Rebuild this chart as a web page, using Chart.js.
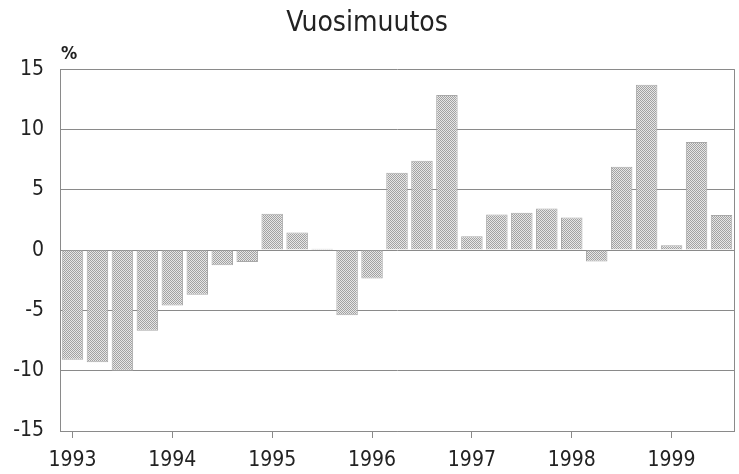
<!DOCTYPE html>
<html>
<head>
<meta charset="utf-8">
<script src="https://cdn.jsdelivr.net/npm/chart.js@4"></script>
<style>
  body { margin: 0; background: #fff; }
</style>
</head>
<body>
<canvas id="chart" width="739" height="474"></canvas>
<script>
// quarters 1993 Q1 .. 1999 Q3
const years = ['1993', '1994', '1995', '1996', '1997', '1998', '1999'];
const quarters = ['Q1', 'Q2', 'Q3', 'Q4'];
const changes = [
  -9.1, -9.3, -10.0, -6.7,
  -4.6, -3.7, -1.25, -1.0,
  3.0, 1.45, 0.1, -5.4,
  -2.35, 6.4, 7.4, 12.85,
  1.15, 2.95, 3.1, 3.45,
  2.7, -0.95, 6.9, 13.7,
  0.4, 8.95, 2.9
];
const yTicks = [-15, -10, -5, 0, 5, 10, 15];

const labels = [];
years.forEach(y => quarters.forEach(q => labels.push(y + ' ' + q)));
labels.length = changes.length;

const font = "'Liberation Sans Narrow', 'DejaVu Sans Condensed', sans-serif";

// stippled grey fill like the printed original
const pc = document.createElement('canvas');
pc.width = 2; pc.height = 2;
const p = pc.getContext('2d');
p.fillStyle = '#e6e6e6'; p.fillRect(0, 0, 2, 2);
p.fillStyle = '#a2a2a2'; p.fillRect(0, 0, 1, 1); p.fillRect(1, 1, 1, 1);

const ctx = document.getElementById('chart').getContext('2d');
const pattern = ctx.createPattern(pc, 'repeat');

const frame = {
  id: 'frame',
  afterDraw(chart) {
    const a = chart.chartArea;
    const c = chart.ctx;
    c.save();
    c.strokeStyle = '#8a8a8a';
    c.lineWidth = 1;
    c.beginPath();
    c.moveTo(a.right + 0.5, a.top);
    c.lineTo(a.right + 0.5, a.bottom);
    c.stroke();
    c.fillStyle = '#222';
    c.font = 'bold 18px ' + font;
    c.textBaseline = 'alphabetic';
    c.fillText('%', a.left + 1, a.top - 10);
    c.restore();
  }
};

new Chart(ctx, {
  type: 'bar',
  data: {
    labels: labels,
    datasets: [{
      data: changes,
      backgroundColor: pattern,
      borderColor: '#a8a8a8',
      borderWidth: 1,
      barPercentage: 0.86,
      categoryPercentage: 1
    }]
  },
  options: {
    responsive: false,
    animation: false,
    layout: { padding: { left: 0, right: 5, top: 0, bottom: 0 } },
    plugins: {
      legend: { display: false },
      tooltip: { enabled: false },
      title: {
        display: true,
        text: 'Vuosimuutos',
        color: '#222',
        font: { family: font, size: 28, weight: 'normal' },
        padding: { top: 6.5, bottom: 29 }
      }
    },
    scales: {
      x: {
        offset: true,
        afterFit: axis => { axis.height = 43; },
        grid: {
          offset: false,
          drawOnChartArea: false,
          drawTicks: true,
          tickLength: 7,
          color: c => (c.index % 4 === 0 ? '#8a8a8a' : 'rgba(0,0,0,0)')
        },
        border: { color: '#8a8a8a' },
        ticks: {
          autoSkip: false,
          maxRotation: 0,
          padding: 10,
          color: '#222',
          font: { family: font, size: 21 },
          callback: (v, i) => (i % 4 === 0 ? years[i / 4] : '')
        }
      },
      y: {
        min: -15,
        max: 15,
        afterFit: axis => { axis.width = 60; },
        afterBuildTicks: axis => { axis.ticks = yTicks.map(v => ({ value: v })); },
        grid: { color: '#8a8a8a', drawTicks: false },
        border: { color: '#8a8a8a' },
        ticks: {
          padding: 16,
          color: '#222',
          font: { family: font, size: 21 }
        }
      }
    }
  },
  plugins: [frame]
});
</script>
</body>
</html>
